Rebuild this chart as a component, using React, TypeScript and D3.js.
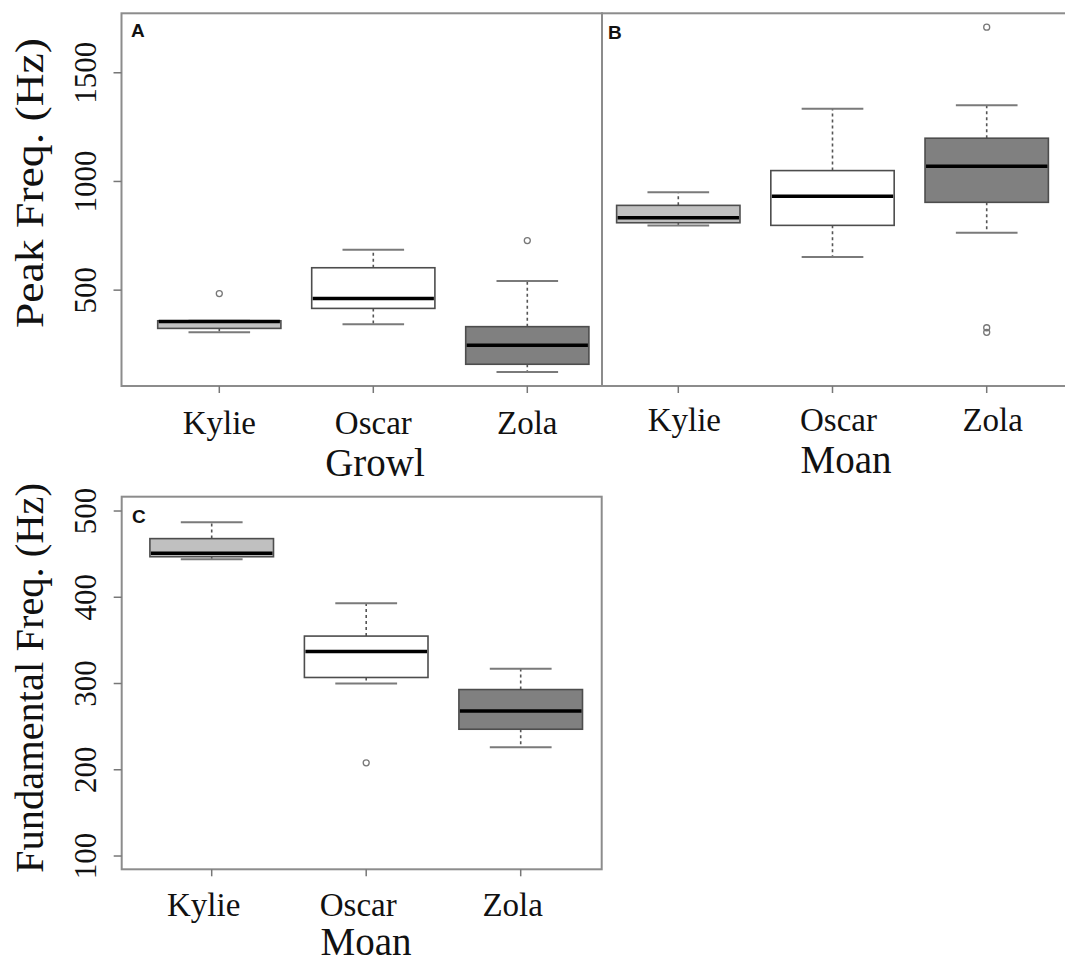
import { useRef, useEffect } from "react";
import * as d3 from "d3";

// categories and values
const categories = ["Kylie", "Oscar", "Zola"];
const boxFills = ["#c0c0c0", "#ffffff", "#808080"];

// A: growl, peak frequency (Hz)
const growlPeakLow = [306, 343, 123];
const growlPeakQ1 = [324, 416, 159];
const growlPeakMedian = [356, 462, 246];
const growlPeakQ3 = [359, 603, 332];
const growlPeakHigh = [359, 686, 542];
const growlPeakOutliers = [[484], [], [728]];

// B: moan, peak frequency (Hz)
const moanPeakLow = [797, 652, 764];
const moanPeakQ1 = [810, 798, 904];
const moanPeakMedian = [833, 932, 1070];
const moanPeakQ3 = [890, 1050, 1199];
const moanPeakHigh = [950, 1335, 1351];
const moanPeakOutliers = [[], [], [1710, 327, 306]];

// C: moan, fundamental frequency (Hz)
const moanFundLow = [444, 300, 226];
const moanFundQ1 = [447, 307, 247];
const moanFundMedian = [451, 337, 268];
const moanFundQ3 = [468, 355, 293];
const moanFundHigh = [487, 393, 317];
const moanFundOutliers = [[], [208], []];

const peakTicks = [500, 1000, 1500];
const fundTicks = [100, 200, 300, 400, 500];

const SERIF = '"Liberation Serif", "Times New Roman", serif';
const SANS = '"Liberation Sans", Arial, sans-serif';

type Stats = {
  low: number[];
  q1: number[];
  median: number[];
  q3: number[];
  high: number[];
  outliers: number[][];
};

const drawBoxes = (g: any, x: any, y: any, s: Stats) => {
  const bw = x.step() * 0.8;
  const cw = bw / 2;
  categories.forEach((c, i) => {
    const cx = x(c);
    // whiskers
    g.append("line")
      .attr("x1", cx).attr("x2", cx)
      .attr("y1", y(s.q3[i])).attr("y2", y(s.high[i]))
      .attr("stroke", "#555").attr("stroke-width", 1.6)
      .attr("stroke-dasharray", "3,3");
    g.append("line")
      .attr("x1", cx).attr("x2", cx)
      .attr("y1", y(s.q1[i])).attr("y2", y(s.low[i]))
      .attr("stroke", "#555").attr("stroke-width", 1.6)
      .attr("stroke-dasharray", "3,3");
    // caps
    [s.low[i], s.high[i]].forEach((v) => {
      g.append("line")
        .attr("x1", cx - cw / 2).attr("x2", cx + cw / 2)
        .attr("y1", y(v)).attr("y2", y(v))
        .attr("stroke", "#7a7a7a").attr("stroke-width", 2);
    });
    // box
    g.append("rect")
      .attr("x", cx - bw / 2)
      .attr("y", y(s.q3[i]))
      .attr("width", bw)
      .attr("height", y(s.q1[i]) - y(s.q3[i]))
      .attr("fill", boxFills[i])
      .attr("stroke", "#4d4d4d")
      .attr("stroke-width", 1.6);
    // median
    g.append("line")
      .attr("x1", cx - bw / 2 + 1).attr("x2", cx + bw / 2 - 1)
      .attr("y1", y(s.median[i])).attr("y2", y(s.median[i]))
      .attr("stroke", "#000").attr("stroke-width", 3.5);
    // outliers
    s.outliers[i].forEach((v) => {
      g.append("circle")
        .attr("cx", cx).attr("cy", y(v)).attr("r", 3)
        .attr("fill", "none").attr("stroke", "#777").attr("stroke-width", 1.3);
    });
  });
};

const xTicks = (g: any, x: any, bottom: number, labelY: number, dx: number) => {
  categories.forEach((c) => {
    g.append("line")
      .attr("x1", x(c)).attr("x2", x(c))
      .attr("y1", bottom).attr("y2", bottom + 7)
      .attr("stroke", "#777").attr("stroke-width", 1.5);
    g.append("text")
      .attr("x", x(c) + dx).attr("y", labelY)
      .attr("text-anchor", "middle")
      .style("font-family", SERIF).style("font-size", "33px")
      .attr("fill", "#111")
      .text(c);
  });
};

const yTicks = (g: any, y: any, ticks: number[], left: number) => {
  ticks.forEach((t) => {
    g.append("line")
      .attr("x1", left - 8).attr("x2", left)
      .attr("y1", y(t)).attr("y2", y(t))
      .attr("stroke", "#777").attr("stroke-width", 1.5);
    g.append("text")
      .attr("transform", `translate(96,${y(t)}) rotate(-90)`)
      .attr("text-anchor", "middle")
      .style("font-family", SERIF).style("font-size", "31px")
      .attr("fill", "#111")
      .text(t);
  });
};

const App = () => {
  const ref = useRef<SVGSVGElement>(null);

  useEffect(() => {
    const svg = d3.select(ref.current);
    svg.selectAll("*").remove();

    /** scales */
    const yPeak = d3.scaleLinear().domain([59, 1775]).range([386, 13]);
    const yFund = d3.scaleLinear().domain([84.6, 516.6]).range([869.3, 496.7]);
    const xA = d3.scalePoint().domain(categories).range([219.3, 527.3]);
    const xB = d3.scalePoint().domain(categories).range([678.3, 986.7]);
    const xC = d3.scalePoint().domain(categories).range([211.7, 520.7]);

    /** frames */
    const frame = (x0: number, y0: number, x1: number, y1: number) =>
      svg.append("rect")
        .attr("x", x0).attr("y", y0)
        .attr("width", x1 - x0).attr("height", y1 - y0)
        .attr("fill", "none").attr("stroke", "#8c8c8c").attr("stroke-width", 2);
    frame(121.5, 13.3, 602, 386);
    frame(602, 13.3, 1095, 386);
    frame(121.7, 496.7, 601.7, 869.3);

    /** panel A */
    const gA = svg.append("g");
    drawBoxes(gA, xA, yPeak, {
      low: growlPeakLow, q1: growlPeakQ1, median: growlPeakMedian,
      q3: growlPeakQ3, high: growlPeakHigh, outliers: growlPeakOutliers,
    });
    xTicks(gA, xA, 386, 434, 0);
    yTicks(gA, yPeak, peakTicks, 121.5);

    /** panel B */
    const gB = svg.append("g");
    drawBoxes(gB, xB, yPeak, {
      low: moanPeakLow, q1: moanPeakQ1, median: moanPeakMedian,
      q3: moanPeakQ3, high: moanPeakHigh, outliers: moanPeakOutliers,
    });
    xTicks(gB, xB, 386, 431, 6);

    /** panel C */
    const gC = svg.append("g");
    drawBoxes(gC, xC, yFund, {
      low: moanFundLow, q1: moanFundQ1, median: moanFundMedian,
      q3: moanFundQ3, high: moanFundHigh, outliers: moanFundOutliers,
    });
    xTicks(gC, xC, 869.3, 916, -8);
    yTicks(gC, yFund, fundTicks, 121.7);

    /** axis titles */
    const title = (x: number, y: number, t: string) =>
      svg.append("text")
        .attr("x", x).attr("y", y)
        .attr("text-anchor", "middle")
        .style("font-family", SERIF).style("font-size", "39px")
        .attr("fill", "#111")
        .text(t);
    title(375, 476, "Growl");
    title(846, 473, "Moan");
    title(366, 955, "Moan");

    const yTitle = (cy: number, len: number, t: string) =>
      svg.append("text")
        .attr("transform", `translate(43,${cy}) rotate(-90)`)
        .attr("text-anchor", "middle")
        .attr("textLength", len)
        .attr("lengthAdjust", "spacingAndGlyphs")
        .style("font-family", SERIF).style("font-size", "39px")
        .attr("fill", "#111")
        .text(t);
    yTitle(183, 290, "Peak Freq. (Hz)");
    yTitle(678, 390, "Fundamental Freq. (Hz)");

    /** panel letters */
    const letter = (x: number, y: number, t: string) =>
      svg.append("text")
        .attr("x", x).attr("y", y)
        .style("font-family", SANS).style("font-size", "19px")
        .style("font-weight", "bold")
        .attr("fill", "#111")
        .text(t);
    letter(131, 37, "A");
    letter(608, 39, "B");
    letter(132, 523, "C");
  }, []);

  return (
    <svg
      ref={ref}
      width={1065}
      height={966}
      style={{ position: "absolute", left: 0, top: 0, background: "#fff" }}
    />
  );
};

export default App;
